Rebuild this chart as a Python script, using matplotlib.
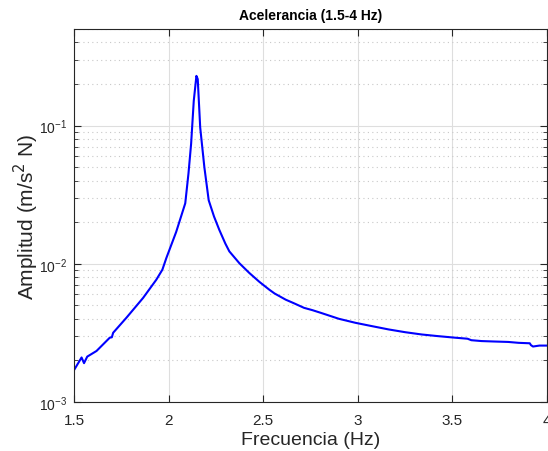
import numpy as np
import matplotlib
matplotlib.use("Agg")
import matplotlib.pyplot as plt
import matplotlib.ticker as ticker

# Datos: frecuencia (Hz) y amplitud de la acelerancia
freq = [1.500, 1.540, 1.553, 1.570, 1.619, 1.689, 1.700, 1.707, 1.777, 1.865,
        1.935, 1.967, 1.988, 2.040, 2.088, 2.105, 2.119, 2.133, 2.147, 2.154,
        2.167, 2.189, 2.212, 2.240, 2.268, 2.300, 2.321, 2.374, 2.426, 2.480,
        2.532, 2.560, 2.619, 2.660, 2.716, 2.760, 2.804, 2.900, 2.988, 3.070,
        3.163, 3.250, 3.338, 3.420, 3.514, 3.580, 3.600, 3.654, 3.720, 3.795,
        3.850, 3.909, 3.915, 3.926, 3.960, 4.000]
amp = [0.00170, 0.00210, 0.00191, 0.00213, 0.00234, 0.00292, 0.00294, 0.00317, 0.00407, 0.00566,
       0.00767, 0.00906, 0.01100, 0.01700, 0.02740, 0.04500, 0.07380, 0.15100, 0.22900, 0.21700,
       0.09700, 0.05000, 0.02880, 0.02200, 0.01760, 0.01400, 0.01230, 0.01010, 0.00860, 0.00740,
       0.00650, 0.00610, 0.00550, 0.00520, 0.00480, 0.00462, 0.00442, 0.00400, 0.00374, 0.00355,
       0.00335, 0.00320, 0.00308, 0.00300, 0.00292, 0.00287, 0.00280, 0.00276, 0.00274, 0.00272,
       0.00268, 0.00266, 0.00258, 0.00252, 0.00256, 0.00256]

plt.rcParams['font.family'] = ['Liberation Sans', 'DejaVu Sans']

fig = plt.figure(figsize=(5.48, 4.52), dpi=100)
ax = fig.add_axes([74 / 548, 1 - 403 / 452, 473 / 548, 373 / 452])

ax.plot(freq, amp, color=(0, 0, 1), linewidth=1.5)
ax.set_yscale('log')
ax.set_xlim(1.5, 4)
ax.set_ylim(1e-3, 0.5)

ax.xaxis.set_major_locator(ticker.MultipleLocator(0.5))
ax.xaxis.set_major_formatter(ticker.FuncFormatter(lambda v, p: f"{v:g}"))
ax.yaxis.set_major_locator(ticker.LogLocator(base=10))
ax.yaxis.set_minor_locator(ticker.LogLocator(base=10, subs=np.arange(2, 10)))
ax.yaxis.set_minor_formatter(ticker.NullFormatter())

# Rejilla estilo MATLAB
ax.grid(True, which='major', color='#dedede', linewidth=0.8, linestyle='-')
ax.grid(True, which='minor', axis='y', color='#c8c8c8', linewidth=0.8, linestyle=(0, (1, 3)))
ax.set_axisbelow(True)

ax.tick_params(which='both', direction='in', top=True, right=True, labelsize=11, colors='#262626')
ax.tick_params(which='major', length=5)
ax.tick_params(axis='x', which='major', pad=8)
ax.tick_params(axis='y', which='major', pad=5, labelsize=10)
ax.tick_params(which='minor', length=3)
for s in ax.spines.values():
    s.set_color('#262626')
    s.set_linewidth(0.8)

ax.set_title("Acelerancia (1.5-4 Hz)", fontsize=10, fontweight='bold', pad=7)
ax.set_xlabel("Frecuencia (Hz)", fontsize=14, color='#262626', labelpad=3)
ax.set_ylabel("Amplitud (m/s$^2$ N)", fontsize=15, color='#262626', labelpad=-1.5)

fig.savefig("out.png", dpi=100)
